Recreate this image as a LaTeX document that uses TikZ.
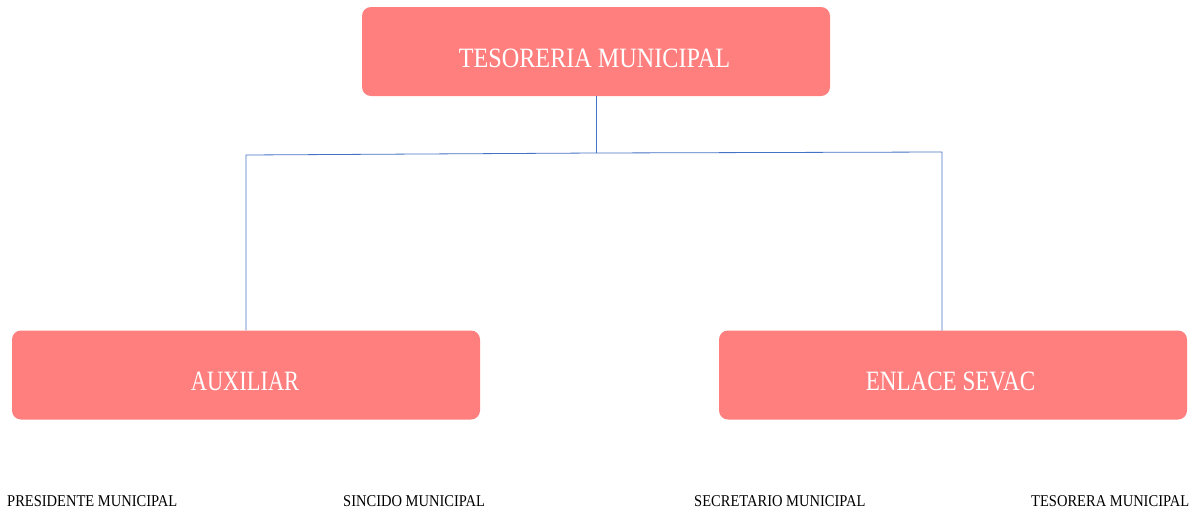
\documentclass[tikz,border=0pt]{standalone}
\usepackage{fontspec}
\setmainfont{Liberation Serif}
\definecolor{boxred}{HTML}{FF7F7F}
\definecolor{linkblue}{HTML}{4472C4}
\newcommand{\boxtext}[3]{\raisebox{-15.5pt}[0pt][0pt]{\hspace*{#2}\scalebox{#1}[1]{#3}}}
\begin{document}
\begin{tikzpicture}[x=1pt,y=-1pt,
  unit/.style={fill=boxred,draw=none,rounded corners=9pt,minimum width=468pt,minimum height=89pt,
    text=white,font=\fontsize{28}{32}\selectfont,inner sep=0pt},
  link/.style={draw=linkblue,line width=0.8pt},
  sign/.style={anchor=west,inner sep=0pt,font=\fontsize{16.5}{18}\selectfont}]
\useasboundingbox (0,0) rectangle (1193,512);
\node[unit] (tes) at (596,51.5) {\boxtext{0.864}{-3pt}{TESORERIA MUNICIPAL}};
\node[unit] (aux) at (246,375) {\boxtext{0.80}{-2pt}{AUXILIAR}};
\node[unit] (enl) at (953,375) {\boxtext{0.824}{-5pt}{ENLACE SEVAC}};
\coordinate (j) at (596,153);
\draw[link] (tes.south) -- (j);
\draw[link] (j) -- (246,155) -- (aux.north -| 246,0);
\draw[link] (j) -- (942,152) -- (942,330.5);
\node[sign] (p1) at (7,501.5) {\scalebox{0.88}[1]{PRESIDENTE MUNICIPAL}};
\node[sign] (p2) at (343,501.5) {\scalebox{0.88}[1]{SINCIDO MUNICIPAL}};
\node[sign] (p3) at (694,501.5) {\scalebox{0.88}[1]{SECRETARIO MUNICIPAL}};
\node[sign] (p4) at (1031,501.5) {\scalebox{0.88}[1]{TESORERA MUNICIPAL}};
\end{tikzpicture}
\end{document}
